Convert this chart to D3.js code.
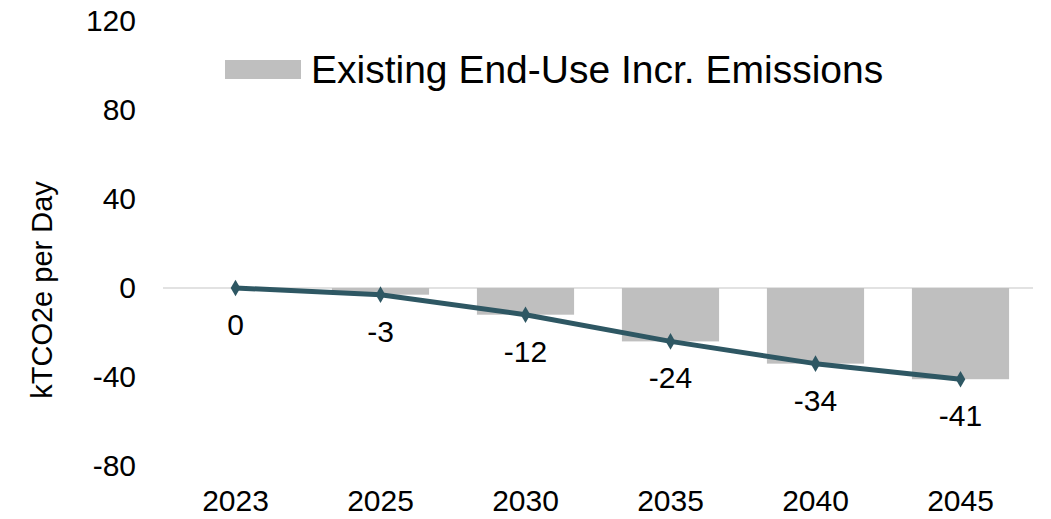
<!DOCTYPE html>
<html>
<head>
<meta charset="utf-8">
<script src="https://cdn.jsdelivr.net/npm/d3@7"></script>
<style>
  html, body { margin: 0; padding: 0; background: #fff; }
  svg { display: block; font-family: Arial, "Liberation Sans", sans-serif; }
</style>
</head>
<body>
<svg id="chart" width="1051" height="519"></svg>
<script>
const categories = ["2023", "2025", "2030", "2035", "2040", "2045"];
const barValues = [0, -3, -12, -24, -34, -41];
const lineValues = [0, -3, -12, -24, -34, -41];
const yTicks = [-80, -40, 0, 40, 80, 120];
const seriesName = "Existing End-Use Incr. Emissions";
const yTitle = "kTCO2e per Day";

const svg = d3.select("#chart");
const x = d3.scaleBand().domain(categories).range([163, 1033]).paddingInner(0.33).paddingOuter(0.165);
const y = d3.scaleLinear().domain([-80, 120]).range([466, 21]);

// zero line
svg.append("line")
  .attr("x1", 163).attr("x2", 1033)
  .attr("y1", y(0)).attr("y2", y(0))
  .attr("stroke", "#d9d9d9").attr("stroke-width", 1.5);

// bars
svg.append("g").selectAll("rect")
  .data(categories.map((c, i) => ({c, v: barValues[i]})))
  .join("rect")
  .attr("x", d => x(d.c))
  .attr("width", x.bandwidth())
  .attr("y", d => Math.min(y(d.v), y(0)))
  .attr("height", d => Math.abs(y(d.v) - y(0)))
  .attr("fill", "#bfbfbf");

// y axis
const yAxis = d3.axisLeft(y).tickValues(yTicks).tickFormat(d => String(d)).tickSize(0).tickPadding(0);
const gy = svg.append("g").attr("transform", "translate(136,0)").call(yAxis);
gy.select(".domain").remove();
gy.selectAll("text").attr("font-size", 30).attr("fill", "#000")
  .attr("font-family", "Arial, 'Liberation Sans', sans-serif");

// x axis
const xAxis = d3.axisBottom(x).tickSize(0).tickPadding(0);
const gx = svg.append("g").attr("transform", "translate(0,490)").call(xAxis);
gx.select(".domain").remove();
gx.selectAll("text").attr("font-size", 30).attr("fill", "#000").attr("dy", "0.71em")
  .attr("font-family", "Arial, 'Liberation Sans', sans-serif");

// y title
svg.append("text")
  .attr("transform", `translate(52,290) rotate(-90)`)
  .attr("text-anchor", "middle")
  .attr("font-size", 29)
  .attr("fill", "#000")
  .text(yTitle);

// line
const pts = categories.map((c, i) => ({c, v: lineValues[i]}));
const line = d3.line().x(d => x(d.c) + x.bandwidth() / 2).y(d => y(d.v));
svg.append("path").datum(pts)
  .attr("d", line)
  .attr("fill", "none")
  .attr("stroke", "#2e5763")
  .attr("stroke-width", 5)
  .attr("stroke-linejoin", "round");

svg.append("g").selectAll("path")
  .data(pts).join("path")
  .attr("d", d3.symbol(d3.symbolDiamond, 80))
  .attr("transform", d => `translate(${x(d.c) + x.bandwidth() / 2},${y(d.v)})`)
  .attr("fill", "#2e5763");

// data labels
svg.append("g").selectAll("text")
  .data(pts).join("text")
  .attr("x", d => x(d.c) + x.bandwidth() / 2)
  .attr("y", d => y(d.v) + 47)
  .attr("text-anchor", "middle")
  .attr("font-size", 30)
  .attr("fill", "#000")
  .text(d => String(d.v));

// legend
svg.append("rect").attr("x", 225).attr("y", 60).attr("width", 76).attr("height", 19).attr("fill", "#bfbfbf");
svg.append("text").attr("x", 311).attr("y", 83).attr("font-size", 39).attr("fill", "#000").text(seriesName);
</script>
</body>
</html>
